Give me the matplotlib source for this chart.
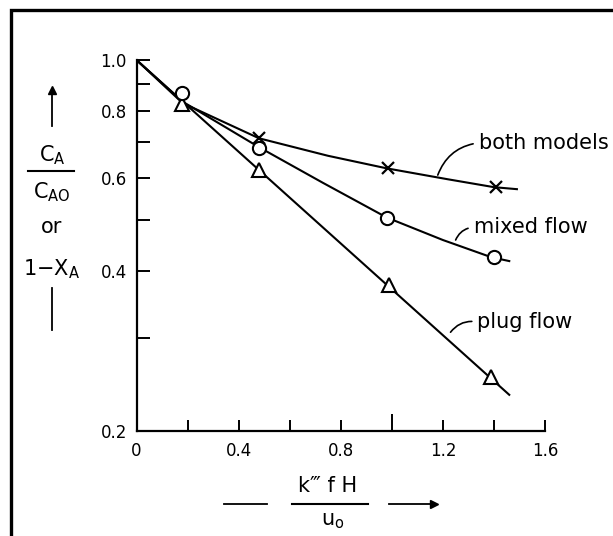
import matplotlib
matplotlib.use("Agg")
import matplotlib.pyplot as plt
from matplotlib.lines import Line2D
from matplotlib.ticker import FixedLocator, NullFormatter

plt.rcParams['font.family'] = ['DejaVu Sans']
plt.rcParams['mathtext.default'] = 'regular'

# curves (log y axis)
plug_x = [0.0, 1.46]
plug_y = [1.0, 0.234]
mixed_x = [0.0, 0.18, 0.48, 0.73, 0.98, 1.20, 1.39, 1.46]
mixed_y = [1.0, 0.835, 0.685, 0.587, 0.505, 0.458, 0.425, 0.418]
both_x = [0.0, 0.18, 0.48, 0.75, 0.98, 1.22, 1.40, 1.49]
both_y = [1.0, 0.83, 0.712, 0.660, 0.625, 0.596, 0.576, 0.571]

# data points (markers)
tri_x = [0.18, 0.48, 0.99, 1.39]
tri_y = [0.825, 0.621, 0.377, 0.253]
circ_x = [0.18, 0.48, 0.98, 1.40]
circ_y = [0.865, 0.682, 0.504, 0.425]
cross_x = [0.48, 0.985, 1.41]
cross_y = [0.713, 0.626, 0.576]

xticks = [0.0, 0.2, 0.4, 0.6, 0.8, 1.0, 1.2, 1.4, 1.6]
xlabels = ['0', '', '0.4', '', '0.8', '', '1.2', '', '1.6']
yticks = [0.2, 0.4, 0.6, 0.8, 1.0]
ylabels = ['0.2', '0.4', '0.6', '0.8', '1.0']
yminor = [0.3, 0.5, 0.7, 0.9]

W, H = 613, 536
fig = plt.figure(figsize=(W / 100, H / 100), dpi=100)


def fp(x, y):
    # pixel (from top-left) to figure fraction
    return x / W, 1 - y / H


ax = fig.add_axes([136.5 / W, 1 - 431 / H, (545 - 136.5) / W, (431 - 60) / H])
ax.set_yscale('log')
ax.set_xlim(0, 1.6)
ax.set_ylim(0.2, 1.0)

lw = 1.5
ax.plot(plug_x, plug_y, color='black', lw=lw)
ax.plot(mixed_x, mixed_y, color='black', lw=lw)
ax.plot(both_x, both_y, color='black', lw=lw)
ax.plot(tri_x, tri_y, ls='none', marker='^', ms=10, mfc='white', mec='black', mew=1.5)
ax.plot(circ_x, circ_y, ls='none', marker='o', ms=9.5, mfc='white', mec='black', mew=1.5)
ax.plot(cross_x, cross_y, ls='none', marker='x', ms=8, mec='black', mew=1.6)

# curve labels with leader lines
lab_kw = dict(fontsize=15, va='center', ha='left',
              arrowprops=dict(arrowstyle='-', lw=1.2, color='black', relpos=(0, 0.5),
                              connectionstyle='arc3,rad=0.3', shrinkA=2, shrinkB=0))
ax.annotate('both models', xy=(1.18, 0.607), xytext=(1.34, 0.698), **lab_kw)
ax.annotate('mixed flow', xy=(1.25, 0.458), xytext=(1.32, 0.484), **lab_kw)
ax.annotate('plug flow', xy=(1.23, 0.307), xytext=(1.335, 0.321), **lab_kw)

# axes styling
for s in ['top', 'right']:
    ax.spines[s].set_visible(False)
for s in ['left', 'bottom']:
    ax.spines[s].set_linewidth(1.6)

ax.xaxis.set_major_locator(FixedLocator(xticks))
ax.set_xticklabels(xlabels)
ax.yaxis.set_major_locator(FixedLocator(yticks))
ax.yaxis.set_minor_locator(FixedLocator(yminor))
ax.set_yticklabels(ylabels)
ax.yaxis.set_minor_formatter(NullFormatter())
ax.tick_params(axis='both', which='both', direction='in', width=1.4,
               labelsize=12, color='black')
ax.tick_params(axis='y', which='both', length=9, pad=7)
ax.tick_params(axis='x', which='major', length=8, pad=8)
ax.xaxis.get_major_ticks()[5].tick1line.set_markersize(12)

# y axis label block
fs = 15
fig.add_artist(Line2D([fp(52, 0)[0]] * 2, [fp(0, 126)[1], fp(0, 92)[1]], color='black', lw=1.3))
fig.add_artist(Line2D([fp(52, 0)[0]], [fp(0, 90)[1]], marker='^', ms=6, color='black'))
fig.text(*fp(52, 155), 'C$_{A}$', fontsize=fs, ha='center', va='center')
fig.add_artist(Line2D([fp(28, 0)[0], fp(74, 0)[0]], [fp(0, 171)[1]] * 2, color='black', lw=1.5))
fig.text(*fp(52, 192), 'C$_{AO}$', fontsize=fs, ha='center', va='center')
fig.text(*fp(52, 227), 'or', fontsize=fs, ha='center', va='center')
fig.text(*fp(52, 269), '1\u2212X$_{A}$', fontsize=fs, ha='center', va='center')
fig.add_artist(Line2D([fp(52, 0)[0]] * 2, [fp(0, 288)[1], fp(0, 330)[1]], color='black', lw=1.3))

# x axis label block
fig.text(*fp(328, 486), 'k\u2034 f H', fontsize=fs, ha='center', va='center')
fig.add_artist(Line2D([fp(292, 0)[0], fp(368, 0)[0]], [fp(0, 504)[1]] * 2, color='black', lw=1.5))
fig.text(*fp(333, 521), 'u$_{o}$', fontsize=fs, ha='center', va='center')
fig.add_artist(Line2D([fp(224, 0)[0], fp(267, 0)[0]], [fp(0, 504)[1]] * 2, color='black', lw=1.3))
fig.add_artist(Line2D([fp(389, 0)[0], fp(432, 0)[0]], [fp(0, 504)[1]] * 2, color='black', lw=1.3))
fig.add_artist(Line2D([fp(434, 0)[0]], [fp(0, 504)[1]], marker='>', ms=6, color='black'))

# frame (left and top edges only)
fig.add_artist(Line2D([fp(10.5, 0)[0], fp(10.5, 0)[0], 1.0],
                      [0.0, fp(0, 9.5)[1], fp(0, 9.5)[1]], color='black', lw=2.4,
                      solid_joinstyle='miter'))

fig.savefig('out.png', dpi=100)
